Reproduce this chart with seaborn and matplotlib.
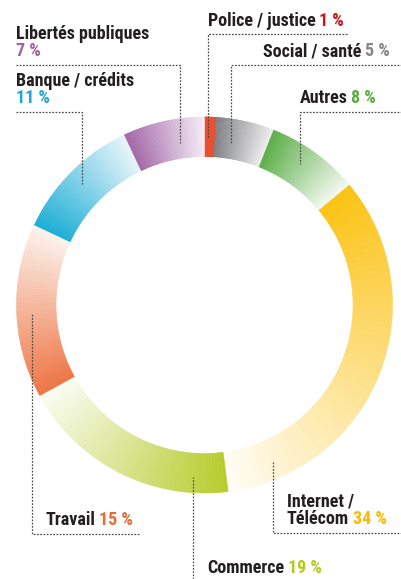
import numpy as np
import matplotlib.pyplot as plt
import seaborn as sns

# Data (clockwise from 12 o'clock)
categories = ['Police / justice', 'Social / santé', 'Autres', 'Internet / Télécom',
              'Commerce', 'Travail', 'Banque / crédits', 'Libertés publiques']
shares = [1, 5, 8, 34, 19, 15, 11, 7]
pct_labels = ['1 %', '5 %', '8 %', '34 %', '19 %', '15 %', '11 %', '7 %']

# ring colours: saturated start -> pale end of each segment
ring_dark = ['#e8502f', '#7e7f83', '#5bae47', '#fbc315', '#b6cc2d', '#ee7544', '#1baed6', '#a266a6']
ring_light = ['#e8502f', '#ededee', '#f2f8f0', '#fffcf3', '#fafcf1', '#fcf2ec', '#e6f4fa', '#f4ebf5']
label_colors = ['#c4161c', '#858585', '#5aab3c', '#fbba00', '#b5c91c', '#ec6a36', '#1ba8d6', '#a4619f']

sns.set_theme(style='white')
plt.rcParams['font.family'] = ['Roboto Condensed', 'Roboto', 'DejaVu Sans']

W, H = 402, 579
fig = plt.figure(figsize=(W / 100, H / 100), dpi=100)

# donut, each segment split in thin slices to fake the gradient
cx, cy, r = 204.5, 305, 188
ax = fig.add_axes([(cx - r) / W, (H - cy - r) / H, 2 * r / W, 2 * r / H])
steps = 60
vals, cols = [], []
for v, c0, c1 in zip(shares, ring_dark, ring_light):
    vals += [v / steps] * steps
    cols += sns.blend_palette([c0, c1], n_colors=steps)
wedges, _ = ax.pie(vals, colors=cols, startangle=90, counterclock=False,
                   wedgeprops=dict(width=0.21))
for w in wedges:
    w.set_edgecolor(w.get_facecolor())
    w.set_linewidth(0.4)
ax.set_xlim(-1, 1)
ax.set_ylim(-1, 1)
ax.set_aspect('equal')

# overlay in pixel units for labels and leader lines
ov = fig.add_axes([0, 0, 1, 1])
ov.set_xlim(0, W)
ov.set_ylim(H, 0)
ov.axis('off')

dark = '#231f20'
fs = 13

def put_label(x, y, lines, pct, color, lh=17):
    # name lines in dark, percentage right after the last line
    for i, line in enumerate(lines[:-1]):
        ov.text(x, y + i * lh, line, color=dark, fontsize=fs, fontweight='bold', va='baseline')
    yl = y + (len(lines) - 1) * lh
    if lines[-1]:
        t = ov.text(x, yl, lines[-1], color=dark, fontsize=fs, fontweight='bold', va='baseline')
        ov.annotate(pct, xy=(1, 0), xycoords=t, xytext=(2.5, 0), textcoords='offset points',
                    color=color, fontsize=fs, fontweight='bold', va='bottom', ha='left')
    else:
        ov.text(x, yl, pct, color=color, fontsize=fs, fontweight='bold', va='baseline')

put_label(208, 26, ['Police / justice'], pct_labels[0], label_colors[0])
put_label(263, 56, ['Social / santé'], pct_labels[1], label_colors[1])
put_label(300, 103, ['Autres'], pct_labels[2], label_colors[2])
put_label(287, 506, ['Internet /', 'Télécom'], pct_labels[3], label_colors[3], lh=18)
put_label(207, 573, ['Commerce'], pct_labels[4], label_colors[4])
put_label(46, 525, ['Travail'], pct_labels[5], label_colors[5])
put_label(16, 86, ['Banque / crédits', ''], pct_labels[6], label_colors[6])
put_label(16, 39, ['Libertés publiques', ''], pct_labels[7], label_colors[7])

leaders = [
    [(347, 34), (208, 34), (208, 138)],
    [(402, 65), (231, 65), (231, 143)],
    [(402, 112), (300, 112), (300, 164)],
    [(402, 533), (273, 533), (273, 461)],
    [(193, 579), (193, 477)],
    [(139, 534), (32, 534), (32, 313)],
    [(16, 112), (82, 112), (82, 184)],
    [(16, 65), (180, 65), (180, 143)],
]
for pts in leaders:
    xs, ys = zip(*pts)
    ov.plot(xs, ys, color='#4a4a4a', lw=0.9, ls=(0, (1.4, 1.2)))

fig.savefig('out.png', dpi=100)
